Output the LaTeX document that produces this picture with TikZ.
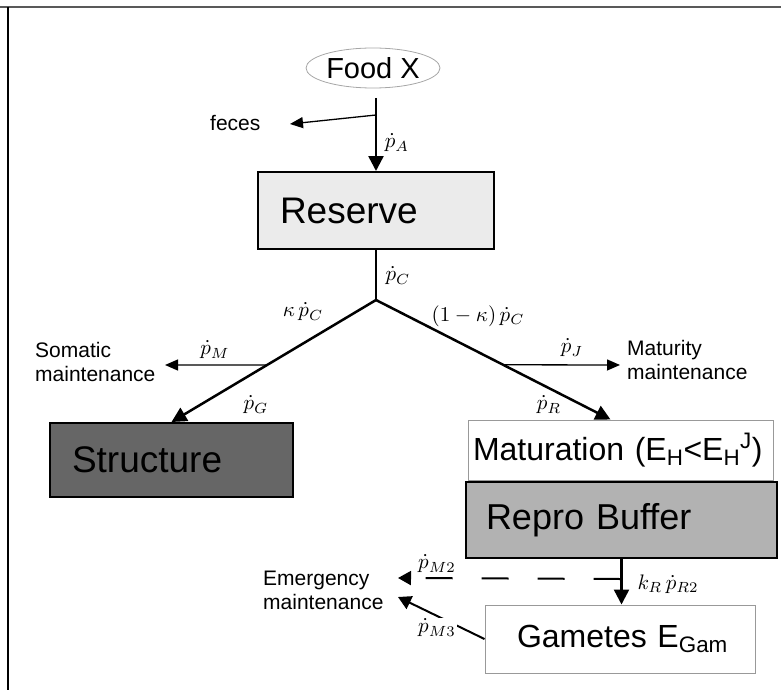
\RequirePackage{fix-cm}
\documentclass[tikz,border=0pt]{standalone}
\usepackage{fontspec}
\setmainfont{Liberation Sans}
\usetikzlibrary{arrows.meta,calc,shapes.geometric}
% flux symbols, scaled up from ordinary math size
\newcommand\fluxsym[1]{\scalebox{2.1}{$#1$}}
\begin{document}
\begin{tikzpicture}[x=1pt,y=-1pt,
  flow/.style={line width=2.5pt,-{Triangle[length=15pt,width=15pt]}},
  side/.style={line width=1.3pt,-{Triangle[length=13pt,width=11pt]}},
  lab/.style={inner sep=1pt},
  note/.style={font=\fontsize{21}{24}\selectfont,align=left,anchor=west,inner sep=0pt},
  pool/.style={rectangle,align=left,inner xsep=5pt,inner ysep=0pt,anchor=center},
  big/.style={font=\fontsize{37}{42}\selectfont},
  mid/.style={font=\fontsize{32}{36}\selectfont}]

\useasboundingbox (0,0) rectangle (781,690);

% page frame
\draw[line width=2pt,black!65] (0,7) -- (781,7);
\draw[line width=2pt] (8,7) -- (8,690);

% state variables
\node[ellipse,draw=black!35,line width=0.8pt,minimum width=134pt,minimum height=40pt,
      inner sep=0pt,font=\fontsize{29}{32}\selectfont] (food) at (373,68) {Food X};
\node[pool,big,draw,line width=2pt,fill=black!8,minimum width=236pt,minimum height=77pt,
      text width=226pt] (res) at (376,210.5) {\hspace*{17pt}Reserve};
\node[pool,big,draw,line width=2pt,fill=black!60,minimum width=243pt,minimum height=74pt,
      text width=233pt] (str) at (171.5,460) {\hspace*{17pt}Structure};
\node[pool,mid,draw=black!40,line width=1pt,fill=white,minimum width=305pt,minimum height=60pt,
      text width=295pt] (mat) at (620.5,450)
      {Maturation (E\textsubscript{H}<E\textsubscript{H}\textsuperscript{J})};
\node[pool,font=\fontsize{36}{40}\selectfont,draw,line width=2pt,fill=black!30,minimum width=311pt,minimum height=76pt,
      text width=301pt] (rep) at (621.5,520) {\hspace*{15pt}Repro Buffer};
\node[pool,mid,draw=black!40,line width=1pt,fill=white,minimum width=270pt,minimum height=68pt,
      text width=260pt] (gam) at (620,639) {\hspace*{27pt}Gametes E\textsubscript{Gam}};

% sinks
\node[note] (feces) at (210,123) {feces};
\node[note] (soma) at (35,362) {Somatic\\maintenance};
\node[note] (matu) at (627,360) {Maturity\\maintenance};
\node[note] (emer) at (263,590) {Emergency\\maintenance};

% branch points and free arrow ends
\coordinate (fa) at (376,98);
\coordinate (ff) at (376,115);
\coordinate (fecestip) at (290,124);
\coordinate (j) at (376,300);
\coordinate (rt) at ([xshift=-10pt]mat.north);
\coordinate (somtip) at (165,365);
\coordinate (mattip) at (620,365);
\coordinate (d0) at (620.5,579);
\coordinate (em1) at (398,578);
\coordinate (em2) at (398,597);

% fluxes
\draw[flow] (fa) -- (res.north);
\draw[side] (ff) -- (fecestip);
\draw[line width=2.5pt] (res.south) -- (j);
\draw[flow] (j) -- (str.north);
\draw[flow] (j) -- (rt);
\draw[side] ($(j)!0.533!(str.north)$) -- (somtip);
\draw[side] ($(j)!0.542!(rt)$) -- (mattip);
\draw[flow] (rep.south) -- (rep.south |- gam.north);
\draw[line width=2pt,dash pattern=on 27pt off 29pt,-{Triangle[length=13pt,width=14pt]}] (d0) -- (em1);
\draw[line width=2pt,-{Triangle[length=13pt,width=14pt]}] (gam.west) -- (em2);

% flux labels
\node[lab] (pA) at (397,143) {\fluxsym{\dot p_{A}}};
\node[lab] (pC) at (398,276) {\fluxsym{\dot p_{C}}};
\node[lab] (kpC) at (303,312) {\fluxsym{\kappa\,\dot p_{C}}};
\node[lab] (okpC) at (478,316) {\fluxsym{(1-\kappa)\,\dot p_{C}}};
\node[lab] (pM) at (215,350) {\fluxsym{\dot p_{M}}};
\node[lab] (pJ) at (572,348) {\fluxsym{\dot p_{J}}};
\node[lab] (pG) at (256,405) {\fluxsym{\dot p_{G}}};
\node[lab] (pR) at (549,405) {\fluxsym{\dot p_{R}}};
\node[lab,fill=white] (pM2) at (437,564) {\fluxsym{\dot p_{M2}}};
\node[lab] (kpR) at (668,584) {\fluxsym{k_{R}\,\dot p_{R2}}};
\node[lab,fill=white] (pM3) at (437,628) {\fluxsym{\dot p_{M3}}};
\end{tikzpicture}
\end{document}
